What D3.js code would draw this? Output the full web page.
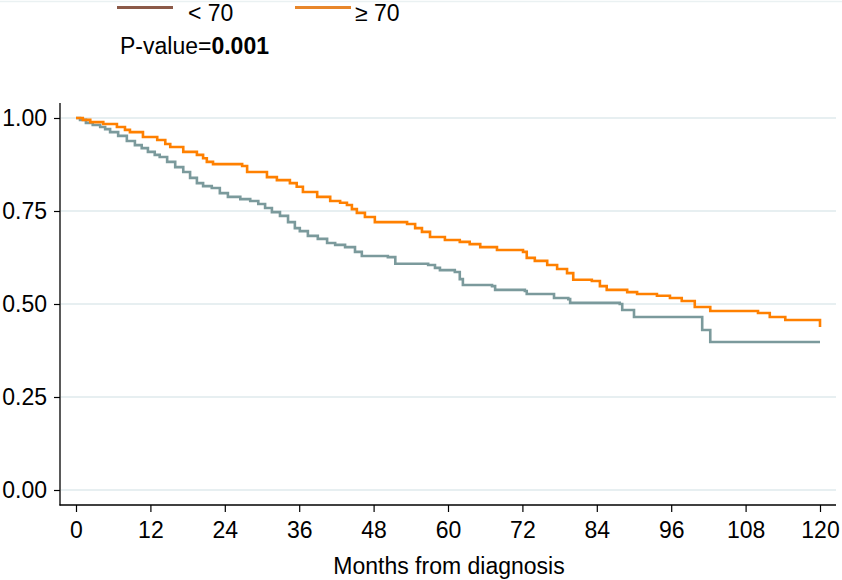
<!DOCTYPE html>
<html>
<head>
<meta charset="utf-8">
<script src="https://cdn.jsdelivr.net/npm/d3@7"></script>
<style>
  body { margin: 0; background: #fff; }
  svg { display: block; font-family: "Liberation Sans", Arial, sans-serif; }
</style>
</head>
<body>
<svg id="chart" width="842" height="580"></svg>
<script>
// Kaplan-Meier steps, months vs survival
const under70Months = [0, 0.65, 1.6, 2.7, 3.9, 4.7, 5.5, 6.8, 8.2, 9.5, 10.6, 11.6, 12.7, 13.5, 14.7, 16.0,
    17.3, 18.4, 19.5, 20.5, 21.9, 23.2, 24.5, 26.5, 28.1, 29.4, 30.5, 31.6, 32.9, 34.2, 35.3, 36.1, 37.4,
    39.0, 40.5, 41.8, 43.4, 45.0, 46.1, 50.3, 51.5, 56.8, 57.9, 58.7, 61.1, 61.9, 62.4, 67.1, 67.6, 72.4,
    72.7, 77.1, 79.4, 79.7, 87.7, 88.1, 90.0, 101.0, 102.3, 120];
const under70Surv = [1.000, 0.995, 0.987, 0.981, 0.976, 0.970, 0.962, 0.952, 0.938, 0.927, 0.919, 0.909,
    0.901, 0.895, 0.882, 0.868, 0.855, 0.839, 0.825, 0.817, 0.812, 0.798, 0.788, 0.782, 0.777, 0.769, 0.758,
    0.747, 0.737, 0.720, 0.704, 0.696, 0.683, 0.675, 0.664, 0.659, 0.653, 0.640, 0.629, 0.626, 0.608, 0.605,
    0.597, 0.591, 0.586, 0.567, 0.551, 0.548, 0.538, 0.535, 0.527, 0.516, 0.513, 0.503, 0.500, 0.484, 0.465,
    0.430, 0.398, 0.398];

const over70Months = [0, 1.1, 2.3, 4.4, 6.6, 7.9, 8.7, 10.8, 13.1, 14.4, 15.2, 17.3, 19.5, 20.5, 21.1, 22.1,
    26.8, 27.6, 30.8, 32.4, 34.5, 35.6, 36.6, 38.9, 41.0, 42.6, 43.7, 44.5, 45.3, 46.6, 48.2, 53.4, 54.7,
    55.8, 57.1, 59.5, 61.9, 63.5, 65.2, 67.9, 72.1, 72.7, 74.0, 76.0, 77.6, 79.2, 80.2, 83.2, 84.5, 85.6,
    88.9, 90.5, 93.7, 95.8, 97.7, 99.8, 102.3, 110.0, 111.9, 114.4, 120];
const over70Surv = [1.000, 0.995, 0.989, 0.984, 0.976, 0.968, 0.962, 0.949, 0.941, 0.930, 0.922, 0.909,
    0.901, 0.892, 0.882, 0.876, 0.871, 0.855, 0.841, 0.833, 0.825, 0.815, 0.801, 0.788, 0.777, 0.772, 0.766,
    0.755, 0.745, 0.734, 0.720, 0.715, 0.704, 0.694, 0.680, 0.672, 0.667, 0.661, 0.653, 0.645, 0.640, 0.624,
    0.616, 0.605, 0.594, 0.583, 0.565, 0.562, 0.548, 0.538, 0.532, 0.527, 0.522, 0.516, 0.508, 0.492, 0.481,
    0.476, 0.465, 0.457, 0.438];

const xTicks = [0, 12, 24, 36, 48, 60, 72, 84, 96, 108, 120];
const yTicks = [0, 0.25, 0.5, 0.75, 1];
const groups = ["< 70", "\u2265 70"];
const pValue = "0.001";

const svg = d3.select("#chart");
const font = 23;

const x = d3.scaleLinear().domain([0, 120]).range([76, 820]);
const y = d3.scaleLinear().domain([0, 1]).range([490, 118]);

// faint frame line at top
svg.append("line")
    .attr("x1", 0).attr("x2", 842).attr("y1", 1.5).attr("y2", 1.5)
    .attr("stroke", "#eaf1f2").attr("stroke-width", 1.5);

// gridlines
svg.append("g").selectAll("line")
    .data(yTicks)
    .join("line")
    .attr("x1", 61).attr("x2", 836)
    .attr("y1", d => y(d)).attr("y2", d => y(d))
    .attr("stroke", "#e7eff1").attr("stroke-width", 2);

// axes
const yAxis = svg.append("g")
    .attr("transform", "translate(60,0)")
    .call(d3.axisLeft(y).tickValues(yTicks).tickFormat(d3.format(".2f")).tickSize(6).tickPadding(7));
yAxis.select(".domain").remove();

const xAxis = svg.append("g")
    .attr("transform", "translate(0,505)")
    .call(d3.axisBottom(x).tickValues(xTicks).tickSize(7).tickPadding(10));
xAxis.select(".domain").remove();

svg.selectAll(".tick text")
    .attr("font-size", font)
    .attr("font-family", "Liberation Sans, Arial, sans-serif")
    .attr("fill", "#000");
svg.selectAll(".tick line").attr("stroke", "#000").attr("stroke-width", 1.2);

svg.append("line")
    .attr("x1", 60).attr("x2", 60).attr("y1", 103).attr("y2", 505.5)
    .attr("stroke", "#000").attr("stroke-width", 1.3);
svg.append("line")
    .attr("x1", 59.5).attr("x2", 836).attr("y1", 505).attr("y2", 505)
    .attr("stroke", "#000").attr("stroke-width", 1.3);

svg.append("text")
    .attr("x", 449).attr("y", 574)
    .attr("text-anchor", "middle")
    .attr("font-size", font)
    .text("Months from diagnosis");

// curves
const line = d3.line()
    .x(d => x(d[0]))
    .y(d => y(d[1]))
    .curve(d3.curveStepAfter);

const curves = [
    {months: under70Months, surv: under70Surv, color: "#7b9a9c"},
    {months: over70Months, surv: over70Surv, color: "#ff8000"}
];

svg.append("g").selectAll("path")
    .data(curves)
    .join("path")
    .attr("d", c => line(d3.zip(c.months, c.surv)))
    .attr("fill", "none")
    .attr("stroke", c => c.color)
    .attr("stroke-width", 2.6);

// legend
const legendColors = ["#8c5a48", "#e8862a"];
const legendX = [117, 295];
const legend = svg.append("g").selectAll("g")
    .data(groups)
    .join("g")
    .attr("transform", (d, i) => "translate(" + legendX[i] + ",0)");
legend.append("line")
    .attr("x1", 0).attr("x2", 56).attr("y1", 7.5).attr("y2", 7.5)
    .attr("stroke", (d, i) => legendColors[i]).attr("stroke-width", 3);
legend.append("text")
    .attr("x", (d, i) => i === 0 ? 71 : 60)
    .attr("y", 21)
    .attr("font-size", font)
    .text(d => d);

const pText = svg.append("text")
    .attr("x", 120).attr("y", 54)
    .attr("font-size", font);
pText.append("tspan").text("P-value=");
pText.append("tspan").attr("font-weight", "bold").text(pValue);
</script>
</body>
</html>
